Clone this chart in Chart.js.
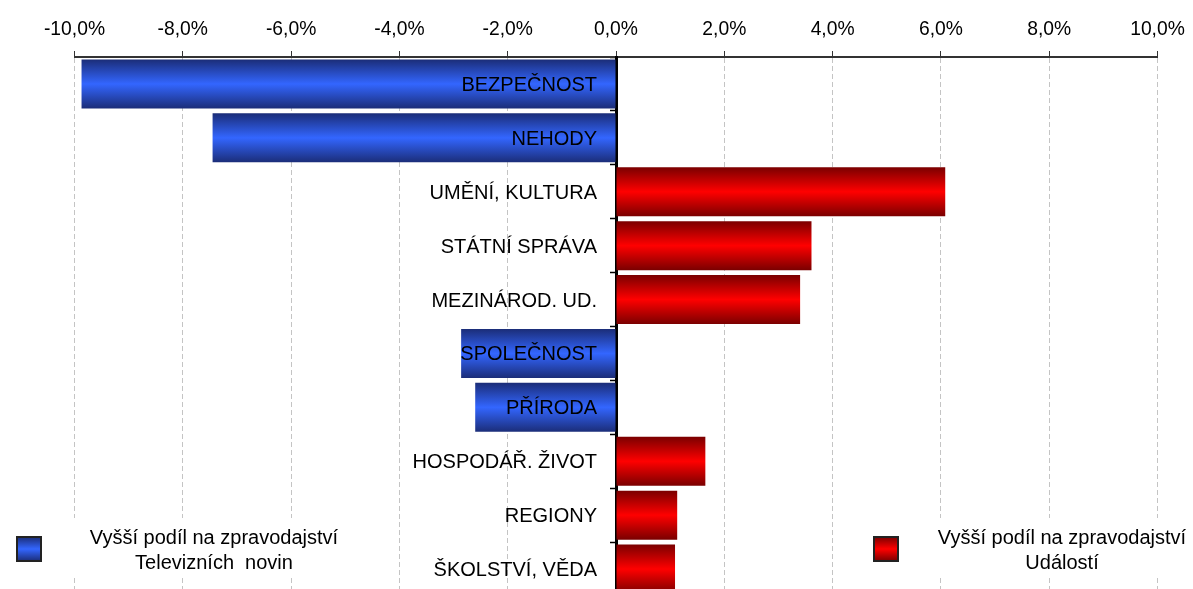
<!DOCTYPE html>
<html>
<head>
<meta charset="utf-8">
<script src="https://cdn.jsdelivr.net/npm/chart.js@4.4.1/dist/chart.umd.min.js"></script>
<style>
    html, body { margin: 0; padding: 0; background: #fff; overflow: hidden; }
    #wrap { position: relative; width: 1193px; height: 600px; }
</style>
</head>
<body>
<div id="wrap"><canvas id="chart"></canvas></div>
<script>
var categories = ['BEZPEČNOST', 'NEHODY', 'UMĚNÍ, KULTURA', 'STÁTNÍ SPRÁVA', 'MEZINÁROD. UD.',
    'SPOLEČNOST', 'PŘÍRODA', 'HOSPODÁŘ. ŽIVOT', 'REGIONY', 'ŠKOLSTVÍ, VĚDA'];
var values = [-9.87, -7.45, 6.08, 3.61, 3.40, -2.86, -2.60, 1.65, 1.13, 1.09];
var xRange = [-10, 10];
var xStep = 2;
var legendLeft = ['Vyšší podíl na zpravodajství', 'Televizních  novin'];
var legendRight = ['Vyšší podíl na zpravodajství', 'Událostí'];

var FONT = "'Liberation Sans', Arial, sans-serif";
var BLUE = ['#1b2d78', '#3366ff'];
var RED = ['#7a0000', '#ff0000'];

function cylinder(ctx, top, bottom, pair) {
    var g = ctx.createLinearGradient(0, top, 0, bottom);
    g.addColorStop(0, pair[0]);
    g.addColorStop(0.5, pair[1]);
    g.addColorStop(1, pair[0]);
    return g;
}

function barFill(context) {
    var chart = context.chart;
    var v = values[context.dataIndex];
    var pair = v < 0 ? BLUE : RED;
    if (!chart.chartArea || !chart.scales.y) return pair[1];
    var y = chart.scales.y;
    var row = Math.abs(y.getPixelForValue(1) - y.getPixelForValue(0));
    var c = y.getPixelForValue(context.dataIndex);
    var half = row * 0.91 / 2;
    return cylinder(chart.ctx, c - half, c + half, pair);
}

function fmtPct(v) {
    return v.toFixed(1).replace('.', ',') + '%';
}

// popisky kategorií u nulové osy
var categoryLabels = {
    id: 'categoryLabels',
    afterDatasetsDraw: function(chart) {
        var ctx = chart.ctx, x = chart.scales.x, y = chart.scales.y;
        var x0 = x.getPixelForValue(0) - 19;
        ctx.save();
        ctx.font = '20px ' + FONT;
        ctx.fillStyle = '#000';
        ctx.textAlign = 'right';
        ctx.textBaseline = 'middle';
        categories.forEach(function(name, i) {
            ctx.fillText(name, x0, y.getPixelForValue(i) + 1.5);
        });
        ctx.restore();
    }
};

// legenda ve spodních rozích
var cornerLegend = {
    id: 'cornerLegend',
    afterDraw: function(chart) {
        var ctx = chart.ctx;
        function item(boxX, boxW, sqX, pair, lines, cx) {
            ctx.save();
            ctx.fillStyle = '#fff';
            ctx.fillRect(boxX, 518, boxW, 57);
            ctx.fillStyle = cylinder(ctx, 537, 561, pair);
            ctx.fillRect(sqX, 537, 24, 24);
            ctx.strokeStyle = '#222';
            ctx.lineWidth = 2;
            ctx.strokeRect(sqX, 537, 24, 24);
            ctx.font = '20px ' + FONT;
            ctx.fillStyle = '#000';
            ctx.textAlign = 'center';
            ctx.textBaseline = 'middle';
            lines.forEach(function(t, i) {
                ctx.fillText(t, cx, 538 + i * 25);
            });
            ctx.restore();
        }
        item(0, 355, 17, BLUE, legendLeft, 214);
        item(860, 333, 874, RED, legendRight, 1062);
    }
};

new Chart(document.getElementById('chart'), {
    type: 'bar',
    data: {
        labels: categories,
        datasets: [{
            data: values,
            backgroundColor: barFill,
            borderWidth: 0,
            categoryPercentage: 1,
            barPercentage: 0.91
        }]
    },
    options: {
        indexAxis: 'y',
        responsive: true,
        maintainAspectRatio: false,
        animation: false,
        layout: { padding: { left: 74.5, right: 35.5, top: 0, bottom: 4 } },
        plugins: { legend: { display: false }, tooltip: { enabled: false } },
        scales: {
            x: {
                position: 'top',
                min: xRange[0],
                max: xRange[1],
                afterFit: function(s) { s.height = 57; },
                ticks: {
                    stepSize: xStep,
                    color: '#000',
                    padding: 0,
                    font: { family: FONT, size: 19.3, lineHeight: '42px' },
                    callback: function(v) { return fmtPct(v); }
                },
                grid: {
                    color: function(c) { return c.tick && c.tick.value === 0 ? 'rgba(0,0,0,0)' : '#c4c4c4'; },
                    lineWidth: 1,
                    tickLength: 6,
                    tickColor: '#333',
                    tickWidth: 1
                },
                border: { display: true, color: '#333', width: 2, dash: [5, 3] }
            },
            y: {
                position: { x: 0 },
                z: 1,
                afterFit: function(s) { s.width = 0; },
                ticks: { display: false },
                grid: {
                    drawOnChartArea: false,
                    drawTicks: true,
                    tickLength: 5,
                    tickColor: '#000',
                    tickWidth: 1.5
                },
                border: { display: true, color: '#000', width: 3 }
            }
        }
    },
    plugins: [categoryLabels, cornerLegend]
});
</script>
</body>
</html>
